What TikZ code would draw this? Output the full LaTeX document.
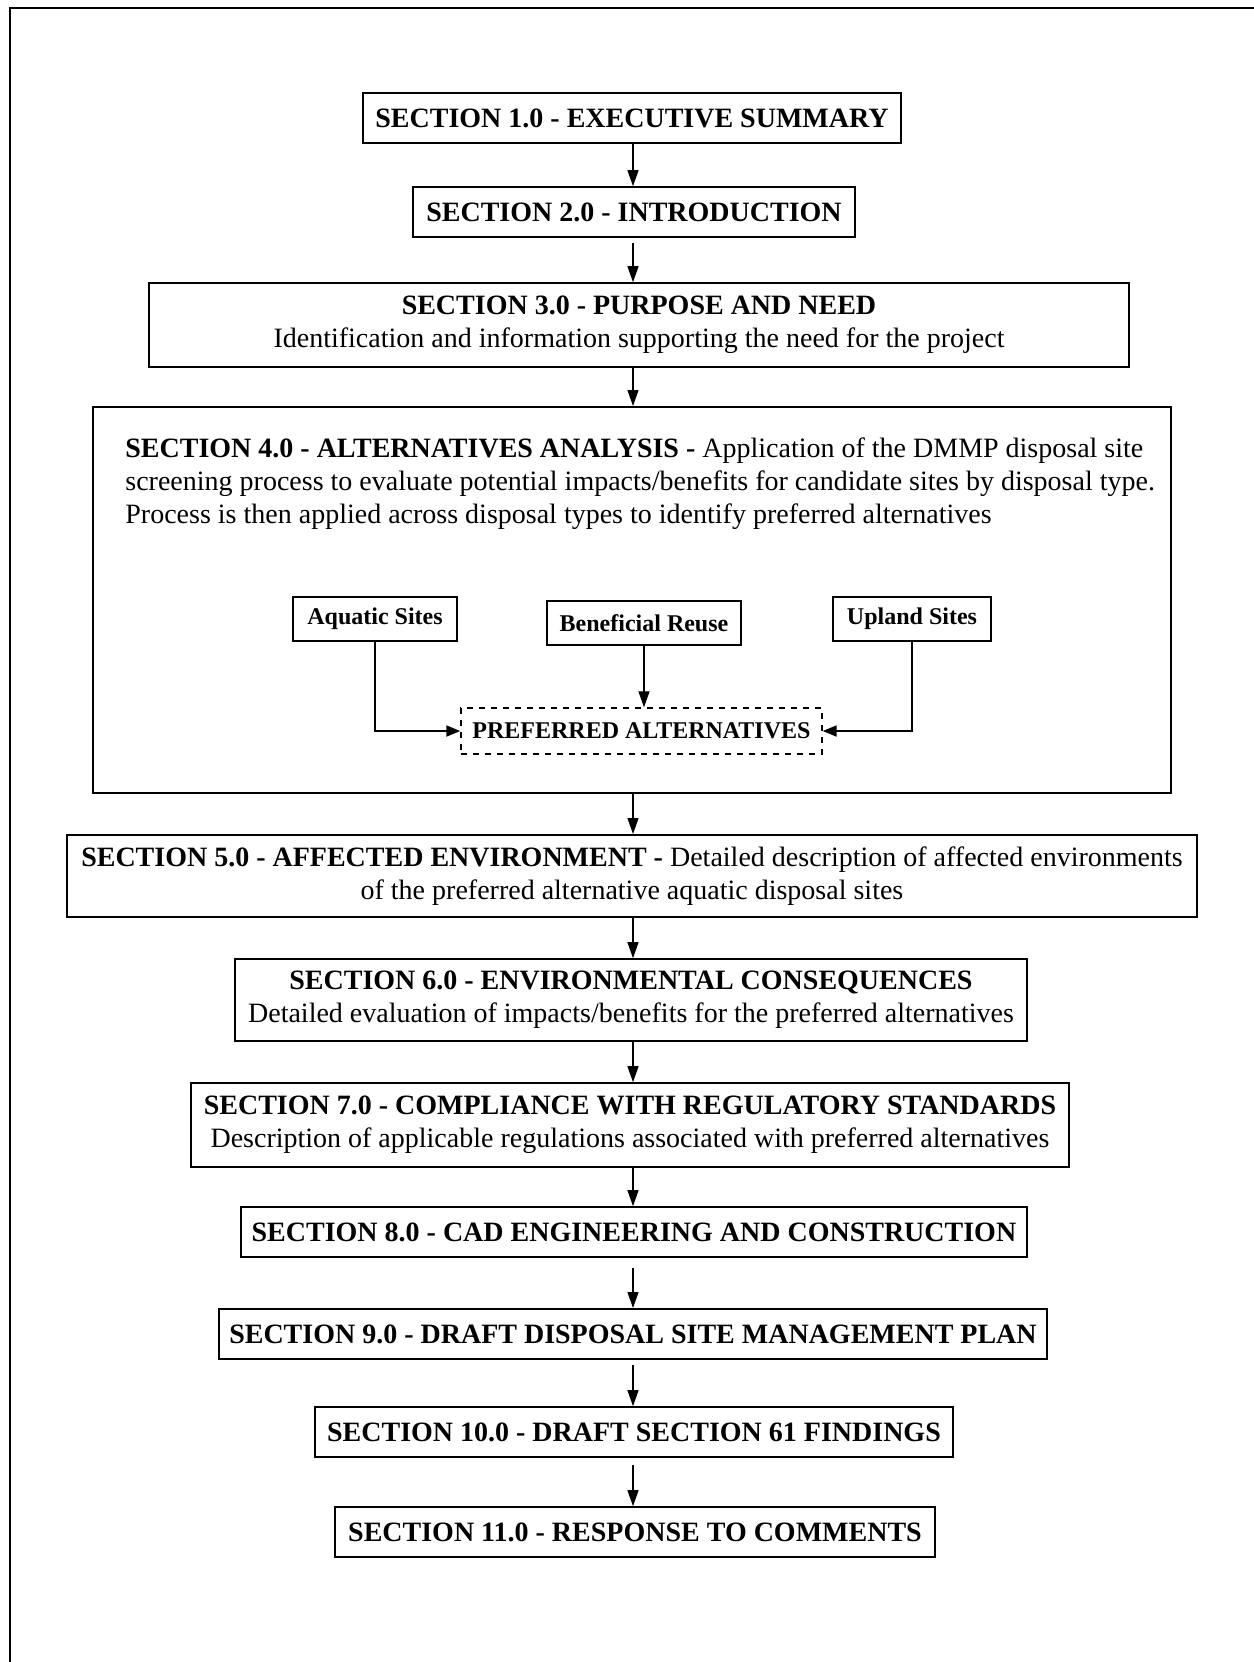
\documentclass[tikz,border=0pt]{standalone}
\usepackage{fontspec}
\setmainfont{Liberation Serif}
\usetikzlibrary{arrows.meta,positioning}
\begin{document}
\begin{tikzpicture}[x=0.5pt,y=-0.5pt,
  sbox/.style={draw,line width=0.8pt,inner sep=0pt,align=center,
    font=\fontsize{14}{16.5}\selectfont},
  subbox/.style={draw,line width=0.8pt,inner sep=0pt,align=center,
    font=\bfseries\fontsize{12}{14}\selectfont},
  arr/.style={line width=0.6pt,-{Triangle[length=8pt,width=5.5pt]}},
  subarr/.style={line width=0.9pt,-{Triangle[length=7pt,width=5.5pt]}}]
\useasboundingbox (0,0) rectangle (1254,1662);
% outer frame
\draw[line width=1pt] (10,1662) -- (10,8) -- (1254,8);
\coordinate (ax) at (633,0);
% boxes
\node[sbox,minimum width=269pt,minimum height=25pt] (b1) at (632,118) {\bfseries SECTION 1.0 - EXECUTIVE SUMMARY};
\node[sbox,minimum width=221pt,minimum height=25pt] (b2) at (634,212) {\bfseries SECTION 2.0 - INTRODUCTION};
\node[sbox,minimum width=490pt,minimum height=42pt] (b3) at (639,325) {\textbf{SECTION 3.0 - PURPOSE AND NEED}\\Identification and information supporting the need for the project};
\node[sbox,line width=1pt,minimum width=539pt,minimum height=193pt] (b4) at (632,600) {};
\node[anchor=base west,inner sep=0pt,align=left,font=\fontsize{14}{16.5}\selectfont] (t4) at (125,523)
  {\textbf{SECTION 4.0 - ALTERNATIVES ANALYSIS -} Application of the DMMP disposal site\\
   screening process to evaluate potential impacts/benefits for candidate sites by disposal type.\\
   Process is then applied across disposal types to identify preferred alternatives};
\node[subbox,minimum width=82pt,minimum height=22pt] (aq) at (375,619) {Aquatic Sites};
\node[subbox,minimum width=97pt,minimum height=22pt] (ben) at (644,623) {Beneficial Reuse};
\node[subbox,minimum width=79pt,minimum height=22pt] (up) at (912,619) {Upland Sites};
\node[subbox,dashed,line width=0.7pt,minimum width=180.5pt,minimum height=23pt] (pref) at (641.5,731) {PREFERRED ALTERNATIVES};
\node[sbox,line width=1pt,minimum width=565pt,minimum height=41pt] (b5) at (632,876) {\textbf{SECTION 5.0 - AFFECTED ENVIRONMENT -} Detailed description of affected environments\\of the preferred alternative aquatic disposal sites};
\node[sbox,minimum width=396pt,minimum height=41pt] (b6) at (631,1000) {\textbf{SECTION 6.0 - ENVIRONMENTAL CONSEQUENCES}\\Detailed evaluation of impacts/benefits for the preferred alternatives};
\node[sbox,minimum width=439pt,minimum height=42pt] (b7) at (630,1125) {\textbf{SECTION 7.0 - COMPLIANCE WITH REGULATORY STANDARDS}\\Description of applicable regulations associated with preferred alternatives};
\node[sbox,minimum width=393pt,minimum height=25pt] (b8) at (634,1232) {\bfseries SECTION 8.0 - CAD ENGINEERING AND CONSTRUCTION};
\node[sbox,line width=1pt,minimum width=414pt,minimum height=25pt] (b9) at (633,1334) {\bfseries SECTION 9.0 - DRAFT DISPOSAL SITE MANAGEMENT PLAN};
\node[sbox,minimum width=319pt,minimum height=25pt] (b10) at (634,1432) {\bfseries SECTION 10.0 - DRAFT SECTION 61 FINDINGS};
\node[sbox,minimum width=300pt,minimum height=25pt] (b11) at (635,1532) {\bfseries SECTION 11.0 - RESPONSE TO COMMENTS};
% main arrows
\draw[arr] (b1.south -| ax) -- (b2.north -| ax);
\draw[arr,shorten <=2.5pt] (b2.south -| ax) -- (b3.north -| ax);
\draw[arr] (b3.south -| ax) -- (b4.north -| ax);
\draw[arr] (b4.south -| ax) -- (b5.north -| ax);
\draw[arr] (b5.south -| ax) -- (b6.north -| ax);
\draw[arr] (b6.south -| ax) -- (b7.north -| ax);
\draw[arr] (b7.south -| ax) -- (b8.north -| ax);
\draw[arr,shorten <=5pt] (b8.south -| ax) -- (b9.north -| ax);
\draw[arr,shorten <=2.5pt] (b9.south -| ax) -- (b10.north -| ax);
\draw[arr,shorten <=3.5pt] (b10.south -| ax) -- (b11.north -| ax);
% sub arrows
\draw[subarr] (aq.south) |- (pref.west);
\draw[subarr] (up.south) |- (pref.east);
\draw[arr] (ben.south) -- (ben.south |- pref.north);
\end{tikzpicture}
\end{document}
